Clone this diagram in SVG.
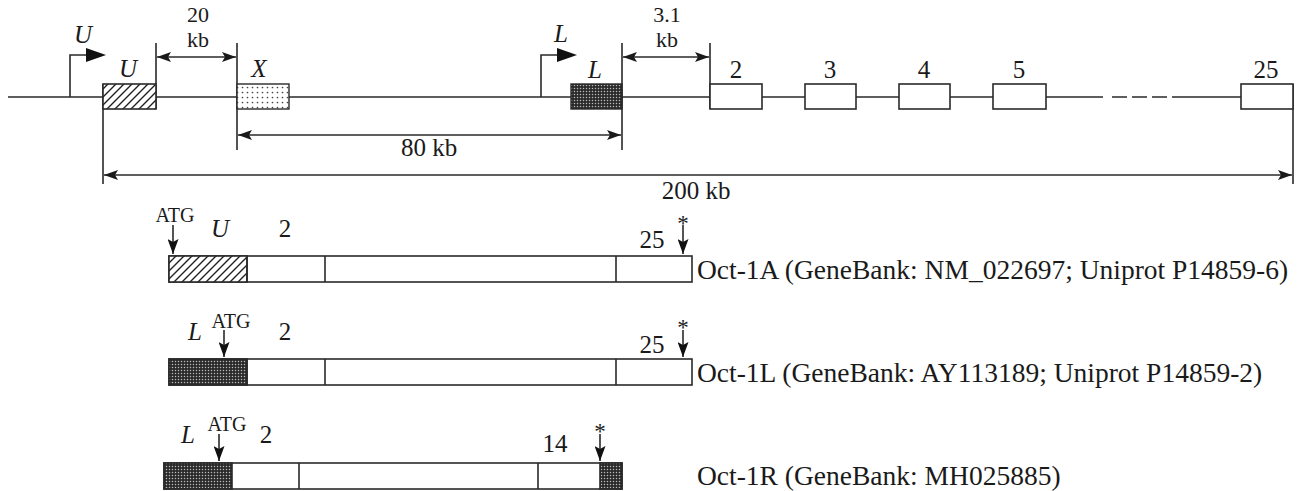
<svg xmlns="http://www.w3.org/2000/svg" width="1304" height="491" viewBox="0 0 1304 491">
<style>
.ln{stroke:#2a2a2a;stroke-width:1.6;fill:none}
.box{stroke:#2a2a2a;stroke-width:1.6;fill:#fff}
.t{font-family:"Liberation Serif","Times New Roman","DejaVu Serif",serif;font-size:25px;fill:#1a1a1a}
.i{font-style:italic}
.s{font-size:20px}
.st{font-size:23px}
.kb{font-size:22px}
.big{font-size:27.5px}
.m{text-anchor:middle}
</style>
<defs>
<pattern id="hatch" width="8" height="8" patternUnits="userSpaceOnUse">
<rect width="8" height="8" fill="#fff"/>
<path d="M-2,10 L10,-2 M-2,2 L2,-2 M6,10 L10,6" stroke="#222" stroke-width="1.4"/>
</pattern>
<pattern id="dots" width="5" height="5" patternUnits="userSpaceOnUse">
<rect width="5" height="5" fill="#fff"/>
<circle cx="2.5" cy="2.5" r="0.85" fill="#444"/>
</pattern>
<pattern id="dark" width="3" height="3" patternUnits="userSpaceOnUse">
<rect width="3" height="3" fill="#2a2a2a"/>
<circle cx="1.5" cy="1.5" r="0.75" fill="#bbb"/>
</pattern>
<marker id="dim" markerUnits="userSpaceOnUse" markerWidth="14" markerHeight="10" refX="14" refY="5" orient="auto-start-reverse">
<path d="M0,0 L14,5 L0,10 L3,5 z" fill="#1a1a1a"/>
</marker>
<marker id="prom" markerUnits="userSpaceOnUse" markerWidth="20" markerHeight="14" refX="2" refY="7" orient="auto">
<path d="M0,0 L20,7 L0,14 z" fill="#111"/>
</marker>
<marker id="dn" markerUnits="userSpaceOnUse" markerWidth="11" markerHeight="15" refX="5.5" refY="15" orient="0">
<path d="M0,0 L5.5,3 L11,0 L5.5,15 z" fill="#111"/>
</marker>
</defs>

<g id="connectors">
<path class="ln" d="M8,97 H1103 M1172,97 H1241"/>
<path class="ln" d="M1103,97 H1172" stroke-dasharray="0 9 15 5 15 5 15 5"/>
<path class="ln" d="M70,97 V55 H88" marker-end="url(#prom)"/>
<path class="ln" d="M541,97 V55 H559" marker-end="url(#prom)"/>
<path class="ln" d="M103,84 V184 M156,43 V109 M237,43 V150 M622,43 V150 M710,43 V109 M1293,84 V184"/>
<path class="ln" d="M157,57 H236" marker-start="url(#dim)" marker-end="url(#dim)"/>
<path class="ln" d="M623,57 H709" marker-start="url(#dim)" marker-end="url(#dim)"/>
<path class="ln" d="M238,135 H621" marker-start="url(#dim)" marker-end="url(#dim)"/>
<path class="ln" d="M104,175 H1292" marker-start="url(#dim)" marker-end="url(#dim)"/>
<path class="ln" d="M173,225 V254" marker-end="url(#dn)"/>
<path class="ln" d="M683,225 V254" marker-end="url(#dn)"/>
<path class="ln" d="M224,330 V357" marker-end="url(#dn)"/>
<path class="ln" d="M683,330 V357" marker-end="url(#dn)"/>
<path class="ln" d="M219,434 V461" marker-end="url(#dn)"/>
<path class="ln" d="M600,434 V461" marker-end="url(#dn)"/>
</g>

<g id="exon-U"><rect x="103" y="84" width="53" height="25" fill="url(#hatch)" stroke="#2a2a2a" stroke-width="1.6"/></g>
<g id="exon-X"><rect x="237" y="84" width="52" height="25" fill="url(#dots)" stroke="#2a2a2a" stroke-width="1.4"/></g>
<g id="exon-L"><rect x="571" y="84" width="51" height="25" fill="url(#dark)" stroke="#2a2a2a" stroke-width="1.4"/></g>
<g id="exon-2"><rect class="box" x="710" y="84" width="52" height="25"/></g>
<g id="exon-3"><rect class="box" x="805" y="84" width="51" height="25"/></g>
<g id="exon-4"><rect class="box" x="899" y="84" width="51" height="25"/></g>
<g id="exon-5"><rect class="box" x="993" y="84" width="53" height="25"/></g>
<g id="exon-25"><rect class="box" x="1241" y="84" width="52" height="25"/></g>

<g id="labels-genomic">
<text class="t i m" x="83" y="43">U</text>
<text class="t i m" x="128" y="77">U</text>
<text class="t i m" x="259" y="77">X</text>
<text class="t i m" x="561" y="42">L</text>
<text class="t i m" x="595" y="78">L</text>
<text class="t kb m" x="198" y="22">20</text>
<text class="t kb m" x="198" y="47">kb</text>
<text class="t kb m" x="667" y="22">3.1</text>
<text class="t kb m" x="667" y="47">kb</text>
<text class="t m" x="736" y="78">2</text>
<text class="t m" x="830" y="78">3</text>
<text class="t m" x="924" y="78">4</text>
<text class="t m" x="1019" y="78">5</text>
<text class="t m" x="1266" y="78">25</text>
<text class="t m" x="429" y="156">80 kb</text>
<text class="t m" x="696" y="199">200 kb</text>
</g>

<g id="transcript-A">
<rect class="box" x="169" y="256" width="523" height="26"/>
<rect x="169" y="256" width="78" height="26" fill="url(#hatch)" stroke="#2a2a2a" stroke-width="1.6"/>
<path class="ln" d="M247,256 V282 M325,256 V282 M616,256 V282"/>
<text class="t s m" x="175" y="222">ATG</text>
<text class="t i m" x="220" y="237">U</text>
<text class="t m" x="285" y="237">2</text>
<text class="t m" x="652" y="248">25</text>
<text class="t st m" x="683" y="231">*</text>
<text class="t big" x="697" y="279">Oct-1A (GeneBank: NM_022697; Uniprot P14859-6)</text>
</g>

<g id="transcript-L">
<rect class="box" x="169" y="359" width="523" height="26"/>
<rect x="169" y="359" width="78" height="26" fill="url(#dark)" stroke="#2a2a2a" stroke-width="1.6"/>
<path class="ln" d="M247,359 V385 M325,359 V385 M616,359 V385"/>
<text class="t i m" x="195" y="340">L</text>
<text class="t s m" x="231" y="328">ATG</text>
<text class="t m" x="285" y="340">2</text>
<text class="t m" x="652" y="353">25</text>
<text class="t st m" x="683" y="335">*</text>
<text class="t big" x="697" y="382">Oct-1L (GeneBank: AY113189; Uniprot P14859-2)</text>
</g>

<g id="transcript-R">
<rect class="box" x="164" y="463" width="458" height="26"/>
<rect x="164" y="463" width="68" height="26" fill="url(#dark)" stroke="#2a2a2a" stroke-width="1.6"/>
<rect x="600" y="463" width="22" height="26" fill="url(#dark)" stroke="#2a2a2a" stroke-width="1.6"/>
<path class="ln" d="M299,463 V489 M538,463 V489"/>
<text class="t i m" x="188" y="443">L</text>
<text class="t s m" x="227" y="431">ATG</text>
<text class="t m" x="266" y="443">2</text>
<text class="t m" x="555" y="452">14</text>
<text class="t st m" x="600" y="439">*</text>
<text class="t big" x="697" y="485">Oct-1R (GeneBank: MH025885)</text>
</g>
</svg>
